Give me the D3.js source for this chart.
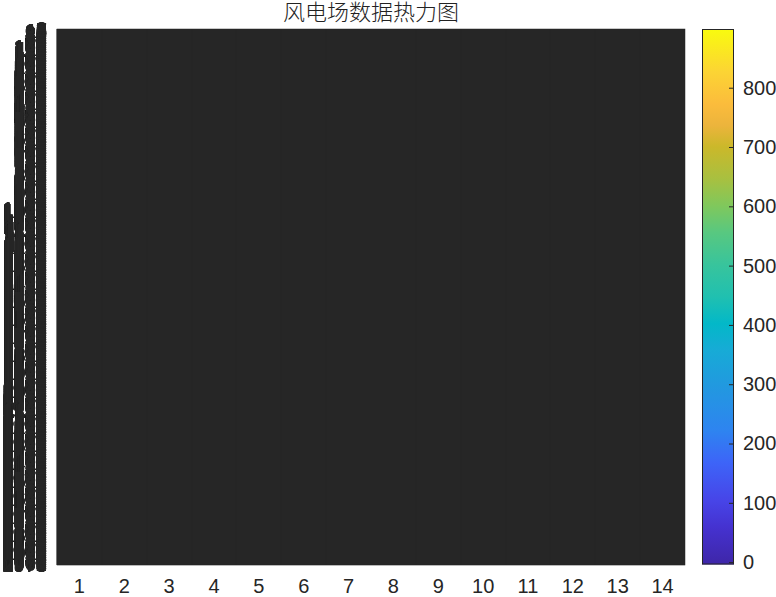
<!DOCTYPE html>
<html>
<head>
<meta charset="utf-8">
<script src="https://cdn.jsdelivr.net/npm/d3@7"></script>
<style>
  html, body { margin: 0; padding: 0; background: #ffffff; }
  svg { display: block; }
  .ylabels { filter: grayscale(100%); }
</style>
</head>
<body>
<svg id="chart" width="776" height="597"></svg>
<script>
// ---------- data ----------
const titleText = "风电场数据热力图";
const columnLabels = [1, 2, 3, 4, 5, 6, 7, 8, 9, 10, 11, 12, 13, 14];
const rowCount = 2976;                       // number of heatmap rows (labels 1..rowCount)
const rowLabels = d3.range(1, rowCount + 1);
const colorDomain = [-4, 899];               // colour-bar limits
const colorTicks = [0, 100, 200, 300, 400, 500, 600, 700, 800];
// parula-like colour map stops (position 0..1, colour)
const cmapPositions = [0.00, 0.07, 0.12, 0.19, 0.25, 0.33, 0.40, 0.45, 0.50, 0.56, 0.62, 0.67, 0.72, 0.78, 0.82, 0.86, 0.92, 1.00];
const cmapColors = ["#3e26a8", "#4532d0", "#4745e8", "#3d64f8", "#2e84f0", "#2298e0", "#17abd6", "#03b8c8", "#20c0b0", "#38c49c", "#58c880", "#80c85c", "#a8c040", "#cbb82a", "#ecb43c", "#fbbc3c", "#fcd434", "#f9fb0e"];

// ---------- layout ----------
const plot = { left: 57, right: 685, top: 29, bottom: 565 };
const cbar = { left: 702, right: 734, top: 29, bottom: 564.5 };
const textColor = "#262626";
const gridColor = "#262626";
const tickFont = "'Liberation Sans', Arial, Helvetica, sans-serif";

const svg = d3.select("#chart");

const x = d3.scaleBand().domain(columnLabels).range([plot.left, plot.right]);
const y = d3.scaleBand().domain(rowLabels).range([plot.top, plot.bottom]);

// ---------- heatmap cells (edges of every cell dominate at this density) ----------
const cells = svg.append("g").attr("class", "cells");
cells.append("g").selectAll("line")
  .data(rowLabels.concat([null]))
  .join("line")
  .attr("x1", plot.left).attr("x2", plot.right)
  .attr("y1", (d, i) => i < rowCount ? y(d) : plot.bottom)
  .attr("y2", (d, i) => i < rowCount ? y(d) : plot.bottom)
  .attr("stroke", gridColor)
  .attr("stroke-width", 1)
  .attr("shape-rendering", "crispEdges");
cells.append("g").selectAll("line")
  .data(columnLabels)
  .join("line")
  .attr("x1", d => x(d)).attr("x2", d => x(d))
  .attr("y1", plot.top).attr("y2", plot.bottom)
  .attr("stroke", gridColor)
  .attr("stroke-width", 1);
cells.append("rect")
  .attr("x", plot.left).attr("y", plot.top)
  .attr("width", plot.right - plot.left).attr("height", plot.bottom - plot.top)
  .attr("fill", "none").attr("stroke", gridColor).attr("stroke-width", 0.5);
// faint lower edge
svg.append("line")
  .attr("x1", plot.left).attr("x2", plot.right)
  .attr("y1", plot.bottom + 0.5).attr("y2", plot.bottom + 0.5)
  .attr("stroke", "#b8b8b8").attr("stroke-width", 1);

// ---------- row labels (overlapping) ----------
svg.append("g").attr("class", "ylabels")
  .selectAll("text")
  .data(rowLabels)
  .join("text")
  .attr("x", 47)
  .attr("y", d => y(d) + y.bandwidth() / 2)
  .attr("dy", "0.35em")
  .attr("text-anchor", "end")
  .attr("font-family", tickFont)
  .attr("font-size", 20)
  .attr("fill", textColor)
  .text(d => d);

// ---------- column labels ----------
svg.append("g").attr("class", "xlabels")
  .selectAll("text")
  .data(columnLabels)
  .join("text")
  .attr("x", d => x(d) + x.bandwidth() / 2)
  .attr("y", 593)
  .attr("text-anchor", "middle")
  .attr("font-family", tickFont)
  .attr("font-size", 20)
  .attr("fill", textColor)
  .text(d => d);

// ---------- title ----------
svg.append("text")
  .attr("x", (plot.left + plot.right) / 2)
  .attr("y", 20)
  .attr("text-anchor", "middle")
  .attr("font-family", "'Noto Sans CJK SC', 'Noto Sans CJK JP', sans-serif")
  .attr("font-weight", 300)
  .attr("font-size", 22)
  .attr("fill", "#222222")
  .text(titleText);

// ---------- colour bar ----------
const cy = d3.scaleLinear().domain(colorDomain).range([cbar.bottom, cbar.top]);

const defs = svg.append("defs");
const grad = defs.append("linearGradient")
  .attr("id", "cbgrad")
  .attr("x1", 0).attr("y1", 1).attr("x2", 0).attr("y2", 0);
grad.selectAll("stop")
  .data(cmapPositions)
  .join("stop")
  .attr("offset", d => d)
  .attr("stop-color", (d, i) => cmapColors[i]);

svg.append("rect")
  .attr("x", cbar.left).attr("y", cbar.top)
  .attr("width", cbar.right - cbar.left).attr("height", cbar.bottom - cbar.top)
  .attr("fill", "url(#cbgrad)");

const cAxis = d3.axisLeft(cy).tickValues(colorTicks).tickSize(5).tickFormat(d3.format("d"));
const cg = svg.append("g").attr("transform", `translate(${cbar.right},0)`).call(cAxis);
cg.select(".domain").remove();
cg.selectAll(".tick line").attr("stroke", textColor).attr("stroke-width", 1);
cg.selectAll(".tick text")
  .attr("x", 9)
  .attr("text-anchor", "start")
  .attr("font-family", tickFont)
  .attr("font-size", 20)
  .attr("fill", textColor);

svg.append("rect")
  .attr("x", cbar.left + 0.5).attr("y", cbar.top + 0.5)
  .attr("width", cbar.right - cbar.left - 1).attr("height", cbar.bottom - cbar.top - 1)
  .attr("fill", "none").attr("stroke", textColor).attr("stroke-width", 1);
</script>
</body>
</html>
